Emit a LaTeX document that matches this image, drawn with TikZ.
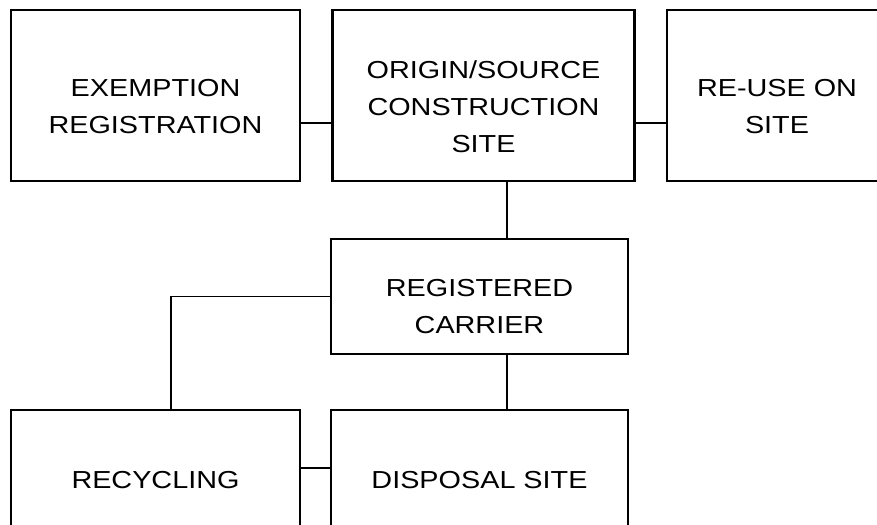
\documentclass[tikz,border=0pt]{standalone}
\usepackage{fontspec}
\setmainfont{Liberation Sans}[FakeStretch=1.17]
\usepackage{tikz}
\usetikzlibrary{positioning, calc}
\tikzset{
  box/.style={rectangle, draw=black, fill=white, line width=1.9pt,
    inner sep=0pt},
  boxtext/.style={align=center, inner sep=0pt,
    font=\fontsize{17.5}{26.3}\selectfont},
  link/.style={line width=1.4pt, color=black}
}
\begin{document}
\begin{tikzpicture}[x=0.025cm, y=-0.025cm]
  \useasboundingbox (0,0) rectangle (877,525);

  % top row
  \node[box, minimum width=7.225cm, minimum height=4.275cm] (exempt) at (155.5,95.5) {};
  \node[box, minimum width=7.55cm, minimum height=4.275cm] (origin) at (483.5,95.5) {};
  \node[box, minimum width=5.5cm, minimum height=4.275cm] (reuse) at (777,95.5) {};
  \node[boxtext] (exempttxt) at ([yshift=-0.275cm]exempt.center) {EXEMPTION\\REGISTRATION};
  \node[boxtext] (origintxt) at ([yshift=-0.275cm]origin.center) {ORIGIN/SOURCE\\CONSTRUCTION\\SITE};
  \node[boxtext] (reusetxt) at ([yshift=-0.275cm]reuse.center) {RE-USE ON\\SITE};

  % carrier
  \node[box, minimum width=7.425cm, minimum height=2.875cm] (carrier) at (479.5,296.5) {};
  \node[boxtext] (carriertxt) at ([yshift=-0.24cm]carrier.center) {REGISTERED\\CARRIER};

  % bottom row
  \node[box, minimum width=7.225cm, minimum height=3.5cm] (recycle) at (155.5,480) {};
  \node[box, minimum width=7.425cm, minimum height=3.5cm] (disposal) at (479.5,480) {};
  \node[boxtext] (recycletxt) at (recycle.center) {RECYCLING};
  \node[boxtext] (disposaltxt) at (disposal.center) {DISPOSAL SITE};

  % connectors
  \draw[link] ([yshift=-0.69cm]exempt.east) -- ([yshift=-0.69cm]origin.west);
  \draw[link] ([yshift=-0.69cm]origin.east) -- ([yshift=-0.69cm]reuse.west);
  \draw[link] ([xshift=0.69cm]carrier.north) -- ([xshift=0.69cm]carrier.north |- origin.south);
  \draw[link] ([xshift=0.69cm]carrier.south) -- ([xshift=0.69cm]carrier.south |- disposal.north);
  \draw[link] (carrier.west) -| ([xshift=0.39cm]recycle.north);
  \draw[link] ([yshift=0.3cm]recycle.east) -- ([yshift=0.3cm]disposal.west);
\end{tikzpicture}
\end{document}
